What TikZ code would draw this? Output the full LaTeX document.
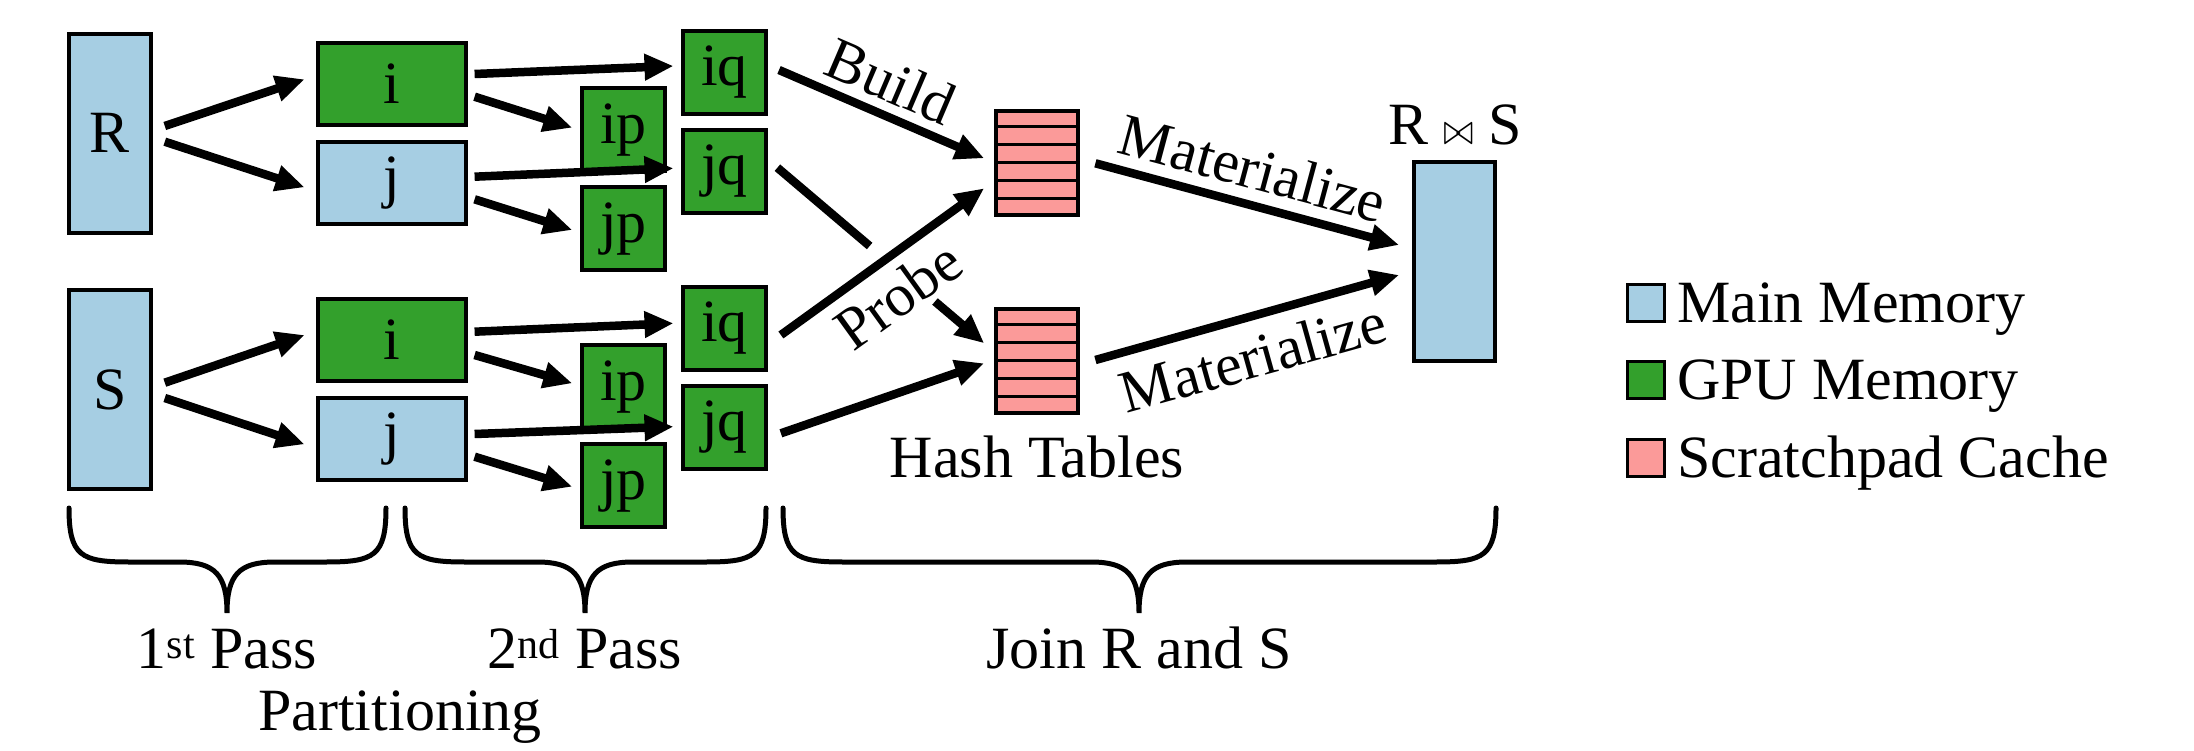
\documentclass[tikz,border=0pt]{standalone}
\usepackage{graphicx}
\usepackage{fontspec}
\setmainfont{Liberation Serif}
\usetikzlibrary{arrows.meta,calc}
\definecolor{mainmem}{HTML}{A6CEE3}
\definecolor{gpumem}{HTML}{33A02C}
\definecolor{scratch}{HTML}{FB9A99}
\newcommand{\joinsym}{\mbox{\fontsize{10}{12}\selectfont\scalebox{3.6}[4.4]{$\bowtie$}}}

\begin{document}
\begin{tikzpicture}[x=1pt,y=-1pt,
  lbl/.style={font=\fontsize{60}{72}\selectfont, inner sep=0pt},
  box/.style={draw=black, line width=4pt, inner sep=0pt, font=\fontsize{60}{72}\selectfont},
  membox/.style={box, fill=mainmem},
  gpubox/.style={box, fill=gpumem},
  tall/.style={minimum width=82pt, minimum height=199pt},
  wide/.style={minimum width=148pt, minimum height=82pt},
  sq/.style={minimum width=83pt, minimum height=83pt},
  htab/.style={box, fill=scratch, minimum width=82pt, minimum height=104pt},
  arr/.style={line width=8.5pt, -{Triangle[length=29pt,width=25pt]}},
  plainline/.style={line width=8.5pt},
  bracepath/.style={line width=5pt, line cap=round},
  key/.style={draw=black, line width=3pt, minimum size=37pt, inner sep=0pt},
]
\useasboundingbox (0,0) rectangle (2194,751);

% relations in main memory
\node[membox, tall] (R) at (110,133.3) {R};
\node[membox, tall] (S) at (110,389.5) {S};

% first pass partitions
\node[gpubox, wide] (i1) at (391.6,83.8) {i};
\node[membox, wide] (j1) at (391.6,182.7) {j};
\node[gpubox, wide] (i2) at (391.6,340) {i};
\node[membox, wide] (j2) at (391.6,439.3) {j};

% second pass partitions
\node[gpubox, sq] (ip1) at (623.4,130) {ip};
\node[gpubox, sq] (jp1) at (623.4,229) {jp};
\node[gpubox, sq] (ip2) at (623.4,386.7) {ip};
\node[gpubox, sq] (jp2) at (623.4,485.8) {jp};
\node[gpubox, sq] (iq1) at (724.5,72.2) {iq};
\node[gpubox, sq] (jq1) at (724.5,171.3) {jq};
\node[gpubox, sq] (iq2) at (724.5,328.5) {iq};
\node[gpubox, sq] (jq2) at (724.5,427.5) {jq};

% hash tables in scratchpad
\node[htab] (ht1) at (1037,162.7) {};
\node[htab] (ht2) at (1037,360.5) {};
\foreach \t in {ht1,ht2}{
  \foreach \k in {1,...,5}{
    \draw[line width=3.5pt] ($(\t.north west)!\k/6!(\t.south west)$) -- ($(\t.north east)!\k/6!(\t.south east)$);
  }
}

% join result
\node[membox, minimum width=81pt, minimum height=199pt] (RS) at (1454,261.7) {};
\node[lbl, anchor=base] (rslbl) at (1455,145) {R \joinsym{} S};

% first pass
\draw[arr] ($(R.east)+(11.8,-7.3)$) -- ($(i1.west)+(-11,-4.5)$);
\draw[arr] ($(R.east)+(11.8,8.4)$) -- ($(j1.west)+(-11,4.6)$);
\draw[arr] ($(S.east)+(11.8,-6.8)$) -- ($(i2.west)+(-11,-5)$);
\draw[arr] ($(S.east)+(11.8,8.5)$) -- ($(j2.west)+(-11,5)$);

% second pass
\draw[arr] ($(i1.east)+(7,-9.8)$) -- ($(iq1.west)+(-7.5,-6.2)$);
\draw[arr] ($(i1.east)+(7,12.9)$) -- ($(ip1.west)+(-7.6,-2.3)$);
\draw[arr] ($(j1.east)+(7,-6)$) -- ($(jq1.west)+(-7.5,-3)$);
\draw[arr] ($(j1.east)+(7,16.6)$) -- ($(jp1.west)+(-7.6,1)$);
\draw[arr] ($(i2.east)+(7,-8.3)$) -- ($(iq2.west)+(-7.5,-5.2)$);
\draw[arr] ($(i2.east)+(7,15)$) -- ($(ip2.west)+(-7.6,-3.4)$);
\draw[arr] ($(j2.east)+(7,-5.3)$) -- ($(jq2.west)+(-7.5,-0.8)$);
\draw[arr] ($(j2.east)+(7,17.4)$) -- ($(jp2.west)+(-7.6,0.9)$);

% build and probe
\draw[arr] ($(iq1.east)+(11,-2.2)$) -- ($(ht1.west)+(-9.8,-4.4)$);
\coordinate (pbA) at ($(jq1.east)+(9.4,-3.6)$);
\coordinate (pbB) at ($(ht2.west)+(-9.8,-17.2)$);
\coordinate (gapA) at ($(pbA)!0.446!(pbB)$);
\coordinate (gapB) at ($(pbA)!0.762!(pbB)$);
\draw[plainline] (pbA) -- (gapA);
\draw[arr] (gapB) -- (pbB);
\draw[arr] ($(iq2.east)+(12.9,6.5)$) -- ($(ht1.west)+(-9.8,25.6)$);
\draw[arr] ($(jq2.east)+(12.9,5.8)$) -- ($(ht2.west)+(-9.8,2.8)$);

% materialize
\draw[arr] ($(ht1.east)+(15.4,0.6)$) -- ($(RS.west)+(-12.4,-16.7)$);
\draw[arr] ($(ht2.east)+(15.4,-0.5)$) -- ($(RS.west)+(-12.4,13.3)$);

\node[lbl, rotate=-23.2] (build) at (891,81) {Build};
\node[lbl, rotate=35.8] (probe) at (898,295) {Probe};
\node[lbl, rotate=-15] (mat1) at (1253,168) {Materialize};
\node[lbl, rotate=15.6] (mat2) at (1253,357.5) {Materialize};
\node[lbl, anchor=base] (hashlbl) at (1037,477) {Hash Tables};

% phase braces
\foreach \xa/\xt/\xb in {69/227/386, 405/585/766, 783/1139/1496}{
  \draw[bracepath] (\xa,508) .. controls (\xa,556) and (\xa+12,562) .. (\xa+60,562)
    -- (\xt-48,562) .. controls (\xt-12,562) and (\xt,575) .. (\xt,613)
    .. controls (\xt,575) and (\xt+12,562) .. (\xt+48,562)
    -- (\xb-60,562) .. controls (\xb-12,562) and (\xb,556) .. (\xb,508);
}
\node[lbl, anchor=base] (pass1) at (227,668) {1\textsuperscript{st} Pass};
\node[lbl, anchor=base] (pass2) at (585,668) {2\textsuperscript{nd} Pass};
\node[lbl, anchor=base] (part) at (400,730) {Partitioning};
\node[lbl, anchor=base] (joinlbl) at (1139,668) {Join R and S};

% legend
\node[key, fill=mainmem] (k1) at (1646,302.7) {};
\node[key, fill=gpumem] (k2) at (1646,379.7) {};
\node[key, fill=scratch] (k3) at (1646,457.5) {};
\node[lbl, anchor=base west] (k1t) at (1677,322.7) {Main Memory};
\node[lbl, anchor=base west] (k2t) at (1677,399.3) {GPU Memory};
\node[lbl, anchor=base west] (k3t) at (1677,477.3) {Scratchpad Cache};
\end{tikzpicture}
\end{document}
